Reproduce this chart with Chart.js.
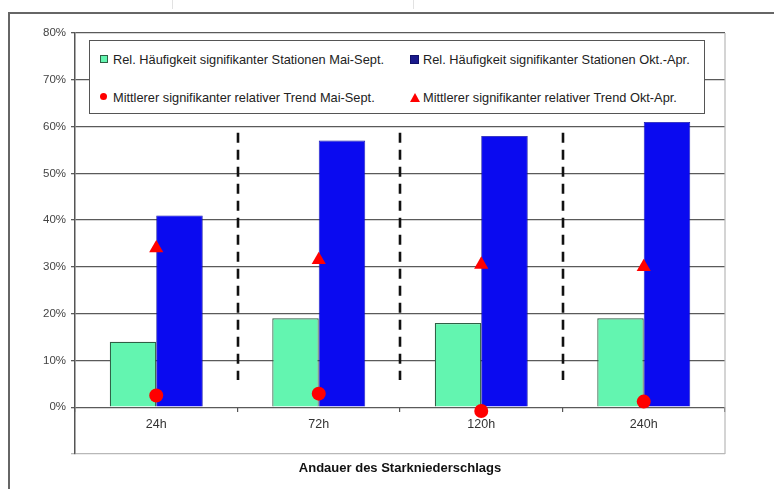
<!DOCTYPE html>
<html lang="de">
<head>
<meta charset="utf-8">
<title>Andauer des Starkniederschlags</title>
<script src="https://cdn.jsdelivr.net/npm/chart.js@4.4.1/dist/chart.umd.min.js"></script>
<style>
  html, body { margin: 0; padding: 0; background: #fff; }
  #wrap { position: relative; width: 774px; height: 489px; overflow: hidden; font-family: "Liberation Sans", Arial, sans-serif; }
  #frame { position: absolute; left: 8px; top: 12px; width: 900px; height: 600px; border-left: 2px solid #666; border-top: 2px solid #666; }
  .tick-top { position: absolute; top: 0; width: 1px; height: 9px; background: #e2e2e2; }
  canvas { position: absolute; left: 0; top: 0; }
  #legend { position: absolute; left: 89px; top: 40px; width: 614px; height: 72px; border: 1.5px solid #555; background: #fff; }
  .item { position: absolute; font-size: 12.8px; color: #222; white-space: nowrap; line-height: 14px; }
  .mk { position: absolute; }
  #xtitle { position: absolute; left: 75px; width: 650px; top: 460px; text-align: center; font-weight: bold; font-size: 13px; color: #111; }
</style>
</head>
<body>
<div id="wrap">
  <div class="tick-top" style="left:172px"></div>
  <div class="tick-top" style="left:413px"></div>
  <div id="frame"></div>
  <canvas id="c" width="774" height="489"></canvas>
  <div id="legend"></div>
  <div id="xtitle">Andauer des Starkniederschlags</div>
</div>
<script>
// Dauerstufen
const durations = ['24h', '72h', '120h', '240h'];
// Relative Häufigkeit signifikanter Stationen (%)
const freqSummer = [14, 19, 18, 19];
const freqWinter = [41, 57, 58, 61];
// Mittlerer signifikanter relativer Trend (%)
const trendSummer = [2.5, 2.9, -0.8, 1.2];
const trendWinter = [34, 31.5, 30.5, 30];
// Achsenbeschriftung
const yTicks = [-10, 0, 10, 20, 30, 40, 50, 60, 70, 80];

const labels = {
  freqSummer: 'Rel. Häufigkeit signifikanter Stationen Mai-Sept.',
  freqWinter: 'Rel. Häufigkeit signifikanter Stationen Okt.-Apr.',
  trendSummer: 'Mittlerer signifikanter relativer Trend Mai-Sept.',
  trendWinter: 'Mittlerer signifikanter relativer Trend Okt-Apr.'
};

const GREEN = '#63f5b0', GREEN_EDGE = '#2f5f45', BLUE = '#0a0af0', RED = '#ff0000';

// Rahmen des Diagrammbereichs und gestrichelte Trennlinien zwischen den Dauerstufen
const decorations = {
  id: 'decorations',
  beforeDatasetsDraw(chart) {
    const {ctx, chartArea, scales} = chart;
    ctx.save();
    ctx.strokeStyle = '#b8b8b8';
    ctx.lineWidth = 1.2;
    ctx.beginPath();
    ctx.moveTo(chartArea.right, chartArea.top);
    ctx.lineTo(chartArea.right, chartArea.bottom);
    ctx.stroke();

    ctx.strokeStyle = '#111';
    ctx.lineWidth = 2.6;
    ctx.setLineDash([10, 7]);
    const yTop = scales.y.getPixelForValue(58.7);
    const yBot = scales.y.getPixelForValue(5.8);
    for (let i = 0; i < durations.length - 1; i++) {
      const x = Math.round((scales.x.getPixelForValue(i) + scales.x.getPixelForValue(i + 1)) / 2);
      ctx.beginPath();
      ctx.moveTo(x, yTop);
      ctx.lineTo(x, yBot);
      ctx.stroke();
    }
    ctx.restore();
  }
};

const chart = new Chart(document.getElementById('c'), {
  type: 'bar',
  data: {
    labels: durations,
    datasets: [
      { label: labels.freqSummer, data: freqSummer, backgroundColor: GREEN, borderColor: GREEN_EDGE, borderWidth: 1.2, order: 2 },
      { label: labels.freqWinter, data: freqWinter, backgroundColor: BLUE, borderColor: '#1010a0', borderWidth: 0.8, order: 2 },
      { type: 'line', label: labels.trendSummer, data: trendSummer, showLine: false, pointStyle: 'circle', pointRadius: 7, pointBackgroundColor: RED, pointBorderColor: RED, pointBorderWidth: 0, order: 1 },
      { type: 'line', label: labels.trendWinter, data: trendWinter, showLine: false, pointStyle: 'triangle', pointRadius: 8.2, pointBackgroundColor: RED, pointBorderColor: RED, pointBorderWidth: 0, order: 1 }
    ]
  },
  options: {
    responsive: false,
    animation: false,
    devicePixelRatio: 1,
    layout: { padding: { left: 0, right: 49, top: 33, bottom: 35 } },
    datasets: { bar: { categoryPercentage: 0.572, barPercentage: 1 } },
    plugins: { legend: { display: false }, tooltip: { enabled: false }, title: { display: false } },
    scales: {
      x: {
        position: { y: 0 },
        grid: { display: true, drawOnChartArea: false, drawTicks: true, tickLength: 5, color: '#555', lineWidth: 1.2, offset: true },
        border: { display: false },
        ticks: { color: '#333', font: { family: 'Liberation Sans', size: 12.5 }, padding: 5 }
      },
      y: {
        min: yTicks[0],
        max: yTicks[yTicks.length - 1],
        afterBuildTicks(scale) { scale.ticks = yTicks.map(v => ({ value: v })); },
        afterFit(scale) { scale.width = 75; },
        grid: {
          color: ctx => ctx.tick && ctx.tick.value === yTicks[0] ? '#b8b8b8' : '#5a5a5a',
          lineWidth: 1.3,
          tickLength: 4,
          drawTicks: true
        },
        border: { display: true, color: '#555', width: 1.5 },
        ticks: {
          color: '#444',
          font: { family: 'Liberation Sans', size: 11.5 },
          padding: 5,
          callback: v => v < 0 ? '' : v + '%'
        }
      }
    }
  },
  plugins: [decorations]
});

// Legende in zwei Spalten
(function buildLegend() {
  const box = document.getElementById('legend');
  const cols = [15, 325];   // x der Symbole innerhalb des Kastens
  const rows = [19, 57];    // y der Zeilenmitten innerhalb des Kastens
  const ds = chart.data.datasets;
  const markers = [
    `<div class="mk" style="width:6px;height:6px;background:${GREEN};border:1.2px solid ${GREEN_EDGE};"></div>`,
    `<div class="mk" style="width:7px;height:7px;background:#1a1a8c;border:0.8px solid #10106a;"></div>`,
    `<div class="mk" style="width:7px;height:7px;border-radius:50%;background:${RED};"></div>`,
    `<svg class="mk" width="10" height="9" viewBox="0 0 10 9"><polygon points="5,0 10,9 0,9" fill="${RED}"/></svg>`
  ];
  ds.forEach((d, i) => {
    const c = i % 2, r = Math.floor(i / 2);
    const wrap = document.createElement('div');
    wrap.style.position = 'absolute';
    wrap.style.left = (cols[c] - 5) + 'px';
    wrap.style.top = (rows[r] - 5) + 'px';
    wrap.innerHTML = markers[i];
    box.appendChild(wrap);
    const t = document.createElement('div');
    t.className = 'item';
    t.style.left = (cols[c] + 8) + 'px';
    t.style.top = (rows[r] - 7) + 'px';
    t.textContent = d.label;
    box.appendChild(t);
  });
})();
</script>
</body>
</html>
